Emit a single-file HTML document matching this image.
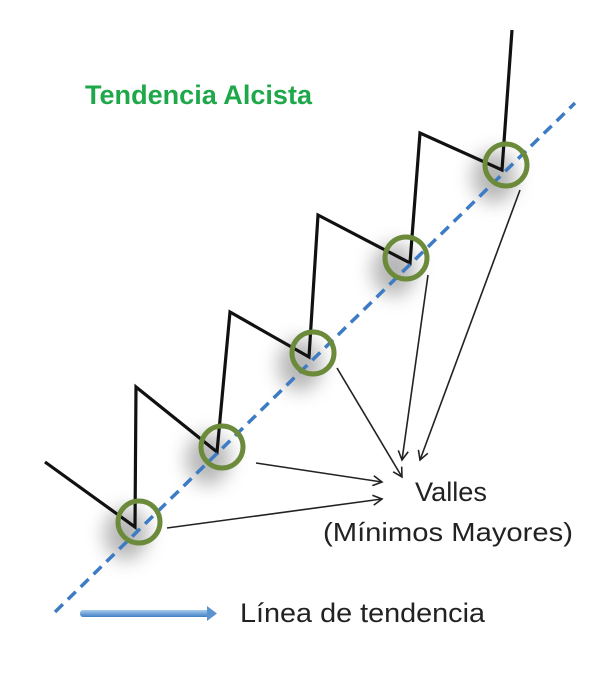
<!DOCTYPE html>
<html><head><meta charset="utf-8"><style>
body{margin:0;background:#fff;width:614px;height:669px;overflow:hidden}
</style></head><body>
<svg width="614" height="669" xmlns="http://www.w3.org/2000/svg" font-family="Liberation Sans, sans-serif">
<defs>
<filter id="sh" x="-100%" y="-100%" width="300%" height="300%"><feGaussianBlur stdDeviation="9"/></filter>
<marker id="ah" markerWidth="12" markerHeight="12" refX="10" refY="6" orient="auto" markerUnits="userSpaceOnUse"><path d="M1,1 L10,6 L1,11" fill="none" stroke="#222" stroke-width="1.6"/></marker>
<linearGradient id="lg" x1="0" y1="0" x2="0" y2="1"><stop offset="0" stop-color="#a8cbee"/><stop offset="1" stop-color="#3f7fc4"/></linearGradient>
</defs>
<g fill="#999" opacity="0.7" filter="url(#sh)">
<ellipse cx="126" cy="534" rx="22" ry="26"/><ellipse cx="208" cy="459" rx="22" ry="26"/><ellipse cx="300" cy="365" rx="22" ry="26"/><ellipse cx="394" cy="270" rx="22" ry="26"/><ellipse cx="494" cy="177" rx="22" ry="26"/>
</g>
<text x="85" y="104" font-size="27" font-weight="bold" fill="#1fa84a" textLength="227" lengthAdjust="spacingAndGlyphs">Tendencia Alcista</text>
<polyline points="45,462 135,527 136,387 217,452 230,312 309,357 318,215 410,263 420,133 502,170 512,30" fill="none" stroke="#111" stroke-width="3.2" stroke-linejoin="miter"/>
<line x1="55" y1="612" x2="575" y2="103" stroke="#3d7cc4" stroke-width="3.5" stroke-dasharray="11,7"/>
<g fill="none" stroke="#6b8a3a" stroke-width="5">
<circle cx="139" cy="522" r="21"/><circle cx="222" cy="447" r="21"/><circle cx="313" cy="353" r="21"/><circle cx="406" cy="258" r="21"/><circle cx="506" cy="165" r="21"/>
</g>
<g stroke="#222" stroke-width="1.6" marker-end="url(#ah)">
<line x1="167" y1="528" x2="382" y2="499"/>
<line x1="256" y1="463" x2="382" y2="482"/>
<line x1="337" y1="368" x2="402" y2="477"/>
<line x1="428" y1="275" x2="402" y2="460"/>
<line x1="520" y1="190" x2="420" y2="460"/>
</g>
<text x="415" y="501" font-size="27" fill="#222" textLength="72" lengthAdjust="spacingAndGlyphs">Valles</text>
<text x="323" y="541" font-size="26" fill="#222" textLength="250" lengthAdjust="spacingAndGlyphs">(Mínimos Mayores)</text>
<rect x="80" y="610" width="130" height="7" rx="3" fill="url(#lg)"/>
<path d="M207,606 L217,613.5 L207,621 Z" fill="#5a93d0"/>
<text x="240" y="622" font-size="27" fill="#222" textLength="245" lengthAdjust="spacingAndGlyphs">Línea de tendencia</text>
</svg>
</body></html>
